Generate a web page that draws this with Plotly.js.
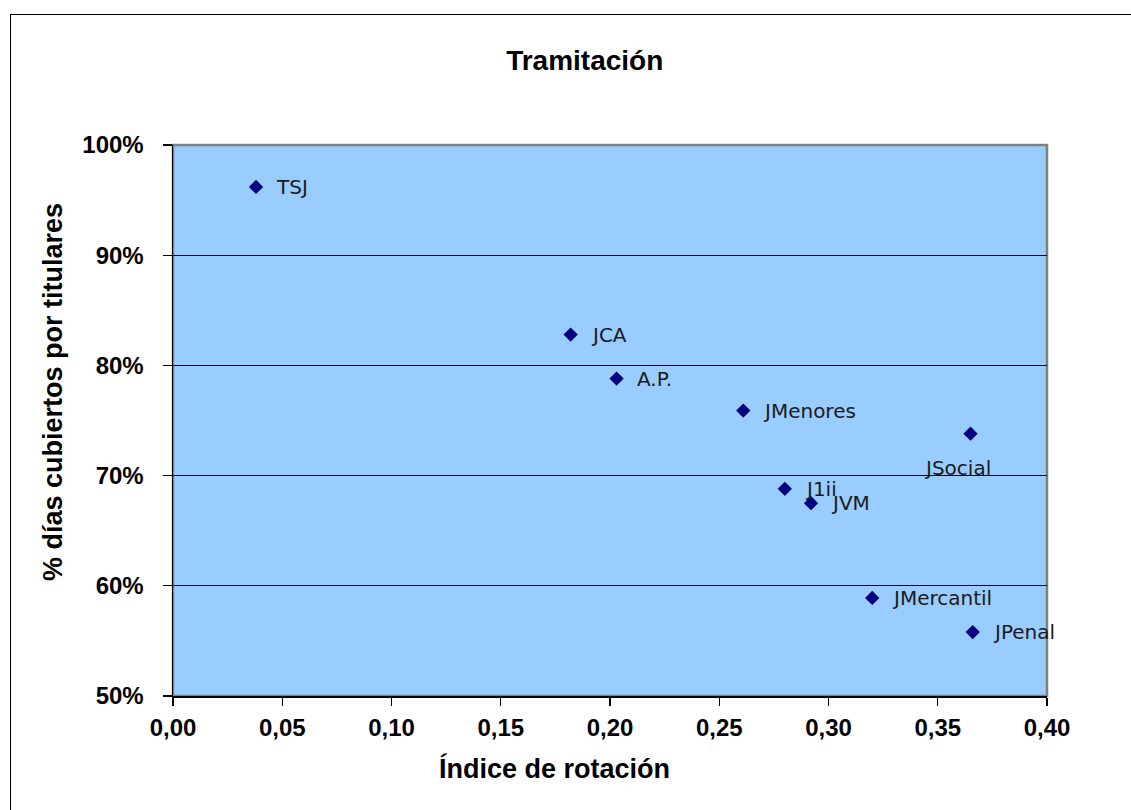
<!DOCTYPE html>
<html>
<head>
<meta charset="utf-8">
<script src="https://cdn.plot.ly/plotly-3.0.1.min.js"></script>
<style>
  html, body { margin: 0; padding: 0; background: #ffffff; }
  #chart { width: 1131px; height: 810px; position: relative; }
  #frame { position: absolute; left: 10px; top: 14px; width: 1140px; height: 820px;
           border: 1.5px solid #000; pointer-events: none; box-sizing: border-box; }
</style>
</head>
<body>
<div id="chart"></div>
<div id="frame"></div>
<script>
const labels = ["TSJ", "JCA", "A.P.", "JMenores", "JSocial", "J1ii", "JVM", "JMercantil", "JPenal"];
const rotacion = [0.038, 0.182, 0.203, 0.261, 0.365, 0.280, 0.292, 0.320, 0.366];
const diasTitulares = [96.2, 82.8, 78.8, 75.9, 73.8, 68.8, 67.5, 58.9, 55.8];
const yTickVals = [50, 60, 70, 80, 90, 100];

// label placement styles (pixel offsets)
const labelStyle = {
  "JSocial": { xanchor: "center", xshift: -13, yshift: -34 }
};

const trace = {
  type: "scatter",
  mode: "markers",
  x: rotacion,
  y: diasTitulares,
  text: labels,
  marker: { symbol: "diamond", size: 11, color: "#000080" },
  hoverinfo: "text+x+y",
  cliponaxis: false
};

const annotations = labels.map((t, i) => {
  const s = labelStyle[t] || { xanchor: "left", xshift: 18, yshift: 0 };
  return {
    x: rotacion[i], y: diasTitulares[i], xref: "x", yref: "y",
    text: t, showarrow: false, xanchor: s.xanchor, yanchor: "middle",
    xshift: s.xshift, yshift: s.yshift,
    font: { family: "DejaVu Sans, Verdana, sans-serif", size: 20, color: "#1a1a1a" }
  };
});

annotations.push({
  text: "Índice de rotación", xref: "paper", yref: "paper",
  x: 0.437, y: -0.131, xanchor: "center", yanchor: "middle", showarrow: false,
  font: { family: "Liberation Sans, Arial, sans-serif", size: 27, color: "#000", weight: "bold" }
});
annotations.push({
  text: "% días cubiertos por titulares", xref: "paper", yref: "paper",
  x: -0.137, y: 0.552, xanchor: "center", yanchor: "middle", showarrow: false,
  textangle: -90,
  font: { family: "Liberation Sans, Arial, sans-serif", size: 27, color: "#000", weight: "bold" }
});

const tickFont = { family: "Liberation Sans, Arial, sans-serif", size: 24, color: "#000", weight: "bold" };

const layout = {
  width: 1131, height: 810,
  margin: { l: 173, r: 84, t: 145, b: 114, pad: 0 },
  paper_bgcolor: "#ffffff",
  plot_bgcolor: "#99CCFF",
  separators: ",.",
  showlegend: false,
  title: {
    text: "<b>Tramitación</b>",
    xref: "container", yref: "container",
    x: 0.517, y: 0.926, xanchor: "center", yanchor: "middle",
    font: { family: "Liberation Sans, Arial, sans-serif", size: 28, color: "#000" }
  },
  xaxis: {
    range: [0, 0.40], dtick: 0.05, tick0: 0, tickformat: ".2f",
    showgrid: false, zeroline: false,
    showline: true, linecolor: "#000", linewidth: 1.5,
    ticks: "outside", ticklen: 8, tickcolor: "#000", tickwidth: 1.2,
    ticklabelstandoff: 2,
    tickfont: tickFont,
    fixedrange: true
  },
  yaxis: {
    range: [50, 100], tickvals: yTickVals, ticktext: yTickVals.map(v => v + "%"),
    showgrid: true, gridcolor: "#000", gridwidth: 1.2, zeroline: false,
    showline: true, linecolor: "#000", linewidth: 1.5,
    ticks: "outside", ticklen: 9, tickcolor: "#000", tickwidth: 1.2,
    ticklabelstandoff: 14,
    tickfont: tickFont,
    fixedrange: true
  },
  shapes: [{
    type: "rect", xref: "paper", yref: "paper", x0: 0, x1: 1, y0: 0, y1: 1,
    line: { color: "#808080", width: 2.5 }, layer: "below"
  }],
  annotations: annotations
};

Plotly.newPlot("chart", [trace], layout, { displayModeBar: false, staticPlot: true });
</script>
</body>
</html>
